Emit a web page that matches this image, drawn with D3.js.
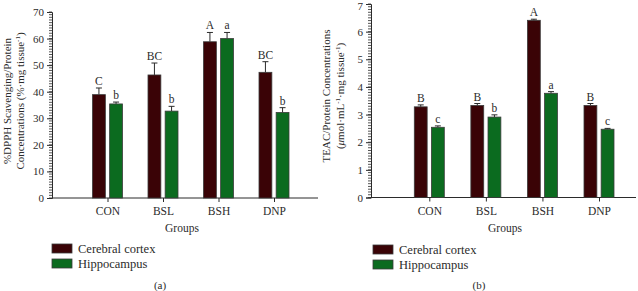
<!DOCTYPE html>
<html>
<head>
<meta charset="utf-8">
<script src="https://cdn.jsdelivr.net/npm/d3@7"></script>
<style>
  body { margin: 0; background: #fff; }
  svg { display: block; font-family: "Liberation Serif", "DejaVu Serif", serif; }
</style>
</head>
<body>
<svg id="chart" width="638" height="291"></svg>
<script>
// Data
const groups = ["CON", "BSL", "BSH", "DNP"];
const series = ["Cerebral cortex", "Hippocampus"];

// panel (a): %DPPH scavenging / protein
const dpphCortex = [38.9, 46.3, 58.8, 47.3];
const dpphCortexErr = [2.5, 4.5, 3.5, 4.0];
const dpphHippo = [35.4, 32.7, 60.0, 32.2];
const dpphHippoErr = [0.7, 1.8, 2.3, 1.8];
const dpphCortexLetters = ["C", "BC", "A", "BC"];
const dpphHippoLetters = ["b", "b", "a", "b"];
const dpphTicks = [0, 10, 20, 30, 40, 50, 60, 70];

// panel (b): TEAC / protein
const teacCortex = [3.28, 3.33, 6.41, 3.33];
const teacCortexErr = [0.07, 0.07, 0.04, 0.07];
const teacHippo = [2.54, 2.91, 3.77, 2.47];
const teacHippoErr = [0.05, 0.08, 0.06, 0.03];
const teacCortexLetters = ["B", "B", "A", "B"];
const teacHippoLetters = ["c", "b", "a", "c"];
const teacTicks = [0, 1, 2, 3, 4, 5, 6, 7];

const colors = { "Cerebral cortex": "#3a0306", "Hippocampus": "#0b6b1f" };
const ink = "#2b2b2b";

const svg = d3.select("#chart");

function drawPanel(opts) {
  const g = svg.append("g");

  const y = d3.scaleLinear().domain(opts.yDomain).range([opts.y0, opts.y1]);
  const x = d3.scalePoint().domain(groups).range(opts.xRange);
  const inner = d3.scaleBand().domain(series).range([-15, 15]).paddingInner(0.25);

  // minor ticks
  const minor = d3.range(opts.yDomain[0], opts.yDomain[1] + opts.minorStep / 2, opts.minorStep);
  g.append("g")
    .attr("transform", `translate(${opts.axisX},0)`)
    .selectAll("line")
    .data(minor)
    .join("line")
    .attr("x1", -3)
    .attr("x2", 0)
    .attr("y1", d => y(d))
    .attr("y2", d => y(d))
    .attr("stroke", ink)
    .attr("stroke-width", 0.8);

  // y axis
  const yAxis = g.append("g")
    .attr("transform", `translate(${opts.axisX},0)`)
    .call(d3.axisLeft(y).tickValues(opts.ticks).tickSize(5).tickPadding(3).tickFormat(d3.format("d")));
  yAxis.select(".domain").attr("stroke", ink);
  yAxis.selectAll(".tick line").attr("stroke", ink);
  yAxis.selectAll("text").attr("fill", ink).style("font-size", "11px").style("font-family", "Liberation Serif");
  // keep the top label inside the picture
  yAxis.selectAll(".tick text").filter(d => y(d) < 8).attr("dy", "0.5em");

  // x axis line
  g.append("line")
    .attr("x1", opts.axisX)
    .attr("x2", opts.xEnd)
    .attr("y1", y(0))
    .attr("y2", y(0))
    .attr("stroke", ink);

  const xAxis = g.append("g")
    .attr("transform", `translate(0,${y(0)})`)
    .call(d3.axisBottom(x).tickSize(4).tickPadding(5));
  xAxis.select(".domain").remove();
  xAxis.selectAll(".tick line").attr("stroke", ink);
  xAxis.selectAll("text").attr("fill", ink).style("font-size", "11.5px").style("font-family", "Liberation Serif");

  // bars
  const rows = [];
  groups.forEach((grp, i) => {
    rows.push({ group: grp, s: series[0], v: opts.cortex[i], e: opts.cortexErr[i], l: opts.cortexLetters[i] });
    rows.push({ group: grp, s: series[1], v: opts.hippo[i], e: opts.hippoErr[i], l: opts.hippoLetters[i] });
  });

  const bx = d => x(d.group) + inner(d.s);
  const bw = inner.bandwidth();

  // error bars (upper only)
  const err = g.append("g").attr("stroke", ink).attr("stroke-width", 1);
  err.selectAll(".stem")
    .data(rows)
    .join("line")
    .attr("x1", d => bx(d) + bw / 2)
    .attr("x2", d => bx(d) + bw / 2)
    .attr("y1", d => y(d.v))
    .attr("y2", d => y(d.v + d.e));
  err.selectAll(".cap")
    .data(rows)
    .join("line")
    .attr("x1", d => bx(d) + bw / 2 - 3)
    .attr("x2", d => bx(d) + bw / 2 + 3)
    .attr("y1", d => y(d.v + d.e))
    .attr("y2", d => y(d.v + d.e));

  g.append("g")
    .selectAll("rect")
    .data(rows)
    .join("rect")
    .attr("x", bx)
    .attr("y", d => y(d.v))
    .attr("width", bw)
    .attr("height", d => y(0) - y(d.v))
    .attr("fill", d => colors[d.s])
    .attr("stroke", "#3b3b3b")
    .attr("stroke-width", 0.8);

  // significance letters
  g.append("g")
    .selectAll("text")
    .data(rows)
    .join("text")
    .attr("x", d => bx(d) + bw / 2)
    .attr("y", d => y(d.v + d.e) - 3)
    .attr("text-anchor", "middle")
    .attr("fill", ink)
    .style("font-size", "11.5px")
    .text(d => d.l);

  // axis titles
  g.append("text")
    .attr("x", opts.groupsX)
    .attr("y", 232)
    .attr("text-anchor", "middle")
    .attr("fill", ink)
    .style("font-size", "11.5px")
    .text("Groups");

  opts.yLabel.forEach((line, i) => {
    const t = g.append("text")
      .attr("transform", `translate(${opts.labelX[i]},${opts.labelY}) rotate(-90)`)
      .attr("text-anchor", "middle")
      .attr("fill", ink)
      .style("font-size", "11px");
    line.forEach(part => {
      const sp = t.append("tspan").text(part.t);
      if (part.sup) sp.attr("baseline-shift", "super").style("font-size", "7px");
      if (part.it) sp.style("font-style", "italic");
    });
  });

  // legend
  const leg = g.append("g")
    .selectAll("g")
    .data(series)
    .join("g")
    .attr("transform", (d, i) => `translate(${opts.legX},${opts.legY + i * 15})`);
  leg.append("rect")
    .attr("width", 20)
    .attr("height", 9)
    .attr("fill", d => colors[d])
    .attr("stroke", "#3b3b3b")
    .attr("stroke-width", 0.8);
  leg.append("text")
    .attr("x", 26)
    .attr("y", 8.5)
    .attr("fill", ink)
    .style("font-size", "12.5px")
    .text(d => d);

  g.append("text")
    .attr("x", opts.capX)
    .attr("y", 289)
    .attr("text-anchor", "middle")
    .attr("fill", ink)
    .style("font-size", "11px")
    .text(opts.caption);
}

drawPanel({
  yDomain: [0, 70], y0: 198, y1: 12, ticks: dpphTicks, minorStep: 1,
  axisX: 52, xEnd: 318, xRange: [107.5, 274],
  cortex: dpphCortex, cortexErr: dpphCortexErr, cortexLetters: dpphCortexLetters,
  hippo: dpphHippo, hippoErr: dpphHippoErr, hippoLetters: dpphHippoLetters,
  groupsX: 182,
  yLabel: [
    [{ t: "%DPPH Scavenging/Protein" }],
    [{ t: "Concentrations (%·mg tissue" }, { t: "-1", sup: true }, { t: ")" }]
  ],
  labelX: [11, 24], labelY: 101,
  legX: 52, legY: 244, capX: 160, caption: "(a)"
});

drawPanel({
  yDomain: [0, 7], y0: 197.5, y1: 4, ticks: teacTicks, minorStep: 0.1,
  axisX: 371, xEnd: 636, xRange: [429.3, 599],
  cortex: teacCortex, cortexErr: teacCortexErr, cortexLetters: teacCortexLetters,
  hippo: teacHippo, hippoErr: teacHippoErr, hippoLetters: teacHippoLetters,
  groupsX: 505,
  yLabel: [
    [{ t: "TEAC/Protein Concentrations" }],
    [{ t: "(" }, { t: "μ", it: true }, { t: "mol·mL" }, { t: "-1", sup: true }, { t: "·mg tissue" }, { t: "-1", sup: true }, { t: ")" }]
  ],
  labelX: [330, 344], labelY: 96,
  legX: 373, legY: 245, capX: 479, caption: "(b)"
});
</script>
</body>
</html>
